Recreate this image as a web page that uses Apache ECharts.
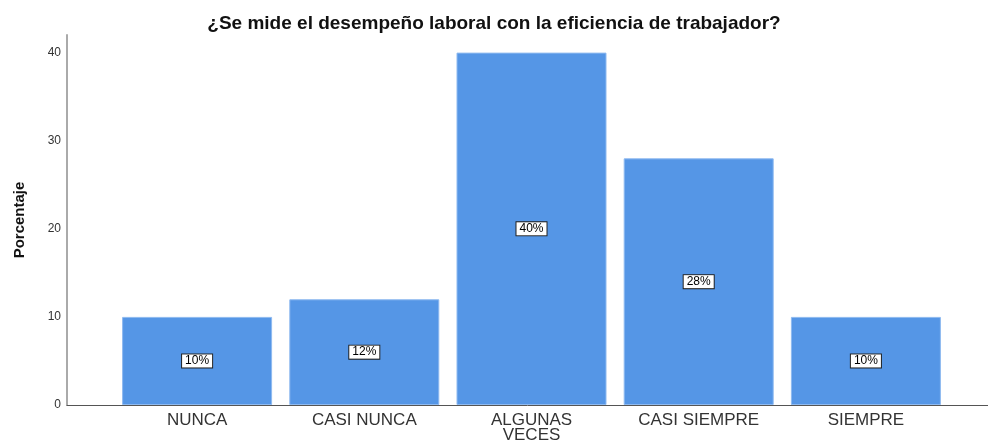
<!DOCTYPE html>
<html>
<head>
<meta charset="utf-8">
<script src="https://cdn.jsdelivr.net/npm/echarts@6/dist/echarts.min.js"></script>
<style>
html,body{margin:0;padding:0;background:#fff;}
#chart{width:988px;height:440px;}
</style>
</head>
<body>
<div id="chart"></div>
<script>
// categorias de respuesta (eje x)
var categorias = ['NUNCA', 'CASI NUNCA', 'ALGUNAS\nVECES', 'CASI SIEMPRE', 'SIEMPRE'];
// porcentaje por categoria
var porcentajes = [10, 12, 40, 28, 10];
// marcas del eje y
var yMin = 0, yMax = 42, yPaso = 10;

var myChart = echarts.init(document.getElementById('chart'));
myChart.setOption({
  animation: false,
  title: {
    text: '¿Se mide el desempeño laboral con la eficiencia de trabajador?',
    left: 'center',
    top: 9,
    textStyle: { fontFamily: 'Liberation Sans, Arial', fontWeight: 'bold', fontSize: 19, color: '#111' }
  },
  grid: [
    // ejes
    { left: 67, right: 0, top: 35, bottom: 35, containLabel: false, outerBoundsMode: 'none' },
    // barras
    { left: 113.5, right: 38.5, top: 35, bottom: 35, containLabel: false, outerBoundsMode: 'none' }
  ],
  xAxis: [
    {
      gridIndex: 0, type: 'value', min: 0, max: 1,
      axisLine: { show: true, lineStyle: { color: '#555', width: 1 } },
      axisTick: { show: false }, axisLabel: { show: false }, splitLine: { show: false }
    },
    {
      gridIndex: 1, type: 'category', data: categorias,
      axisLine: { show: false }, axisTick: { show: false },
      axisLabel: { fontFamily: 'Liberation Sans, Arial', fontSize: 17, color: '#333', margin: 8, lineHeight: 15, interval: 0 }
    }
  ],
  yAxis: [
    {
      gridIndex: 0, type: 'value', min: yMin, max: yMax, interval: yPaso,
      name: 'Porcentaje', nameLocation: 'middle', nameGap: 40, nameMoveOverlap: false,
      nameTextStyle: { fontFamily: 'Liberation Sans, Arial', fontWeight: 'bold', fontSize: 15, color: '#111' },
      axisLine: { show: true, lineStyle: { color: '#aaa', width: 2 } },
      axisTick: { show: false }, splitLine: { show: false },
      axisLabel: { fontFamily: 'Liberation Sans, Arial', fontSize: 12, color: '#333', margin: 6,
        formatter: function (v) { return v % 10 === 0 ? v : ''; } }
    },
    {
      gridIndex: 1, type: 'value', min: yMin, max: yMax, show: false
    }
  ],
  series: [{
    type: 'bar',
    xAxisIndex: 1,
    yAxisIndex: 1,
    data: porcentajes,
    barWidth: 150,
    itemStyle: { color: '#5596e6', borderColor: '#8fbaf0', borderWidth: 1 },
    label: {
      show: true,
      position: 'inside',
      formatter: '{c}%',
      fontFamily: 'Liberation Sans, Arial',
      fontSize: 12,
      color: '#000',
      backgroundColor: '#fff',
      borderColor: '#222',
      borderWidth: 1,
      padding: [1, 3, 0, 3]
    }
  }]
});
</script>
</body>
</html>
